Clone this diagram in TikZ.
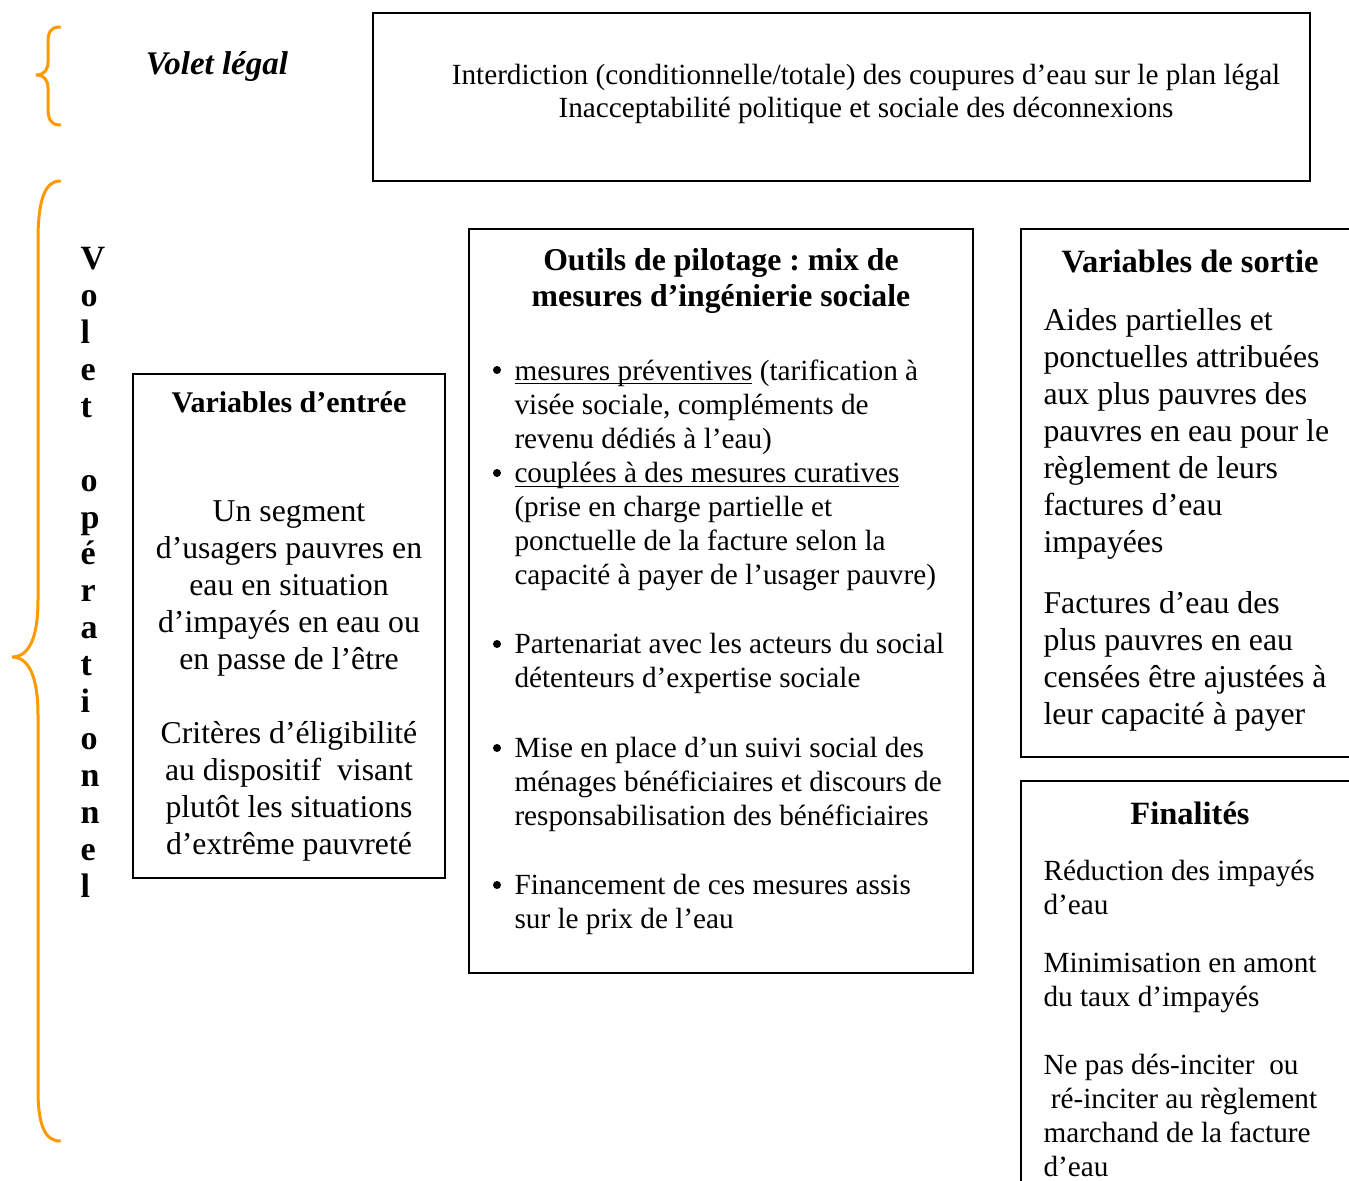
\documentclass[tikz,border=0pt]{standalone}
\usepackage{fontspec}
\setmainfont{Liberation Serif}
\usepackage{xcolor}
\definecolor{accolade}{RGB}{255,153,0}
\newcommand{\souligne}[1]{\underline{\smash{#1}}\vphantom{#1}}

\begin{document}
\frenchspacing
\begin{tikzpicture}[x=0.4pt,y=-0.4pt]
  \tikzset{
    boite/.style={line width=0.8pt},
    texte/.style={inner sep=0, align=left, font=\fontsize{11.7}{13.6}\selectfont},
    grand/.style={inner sep=0, font=\fontsize{12.7}{14.8}\selectfont},
    titre/.style={inner sep=0, align=center, font=\fontsize{12.7}{14.4}\selectfont\bfseries},
    puce/.style={circle, fill, inner sep=0, minimum size=3.2pt},
    brace/.style={draw=accolade, line width=1.2pt, line cap=round}
  }
  \useasboundingbox (0,0) rectangle (1349,1181);

  % accolades
  \draw[brace] (60,27) .. controls (50,27) and (48,33) .. (48,42) -- (48,62)
    .. controls (48,70) and (44,75) .. (36,75) .. controls (44,75) and (48,80) .. (48,88)
    -- (48,108) .. controls (48,118) and (50,125) .. (60,125);
  \draw[brace] (60,181) .. controls (45,181) and (38,200) .. (38,240) -- (38,600)
    .. controls (38,640) and (28,657) .. (12,657) .. controls (28,657) and (38,675) .. (38,715)
    -- (38,1090) .. controls (38,1125) and (45,1141) .. (60,1141);

  \node[inner sep=0, font=\fontsize{13.2}{16}\selectfont\bfseries\itshape] (legal) at (217,67) {Volet légal};
  \node[anchor=north west, inner sep=0, align=left, font=\fontsize{13.6}{14.76}\selectfont\bfseries] (operationnel) at (80,247)
    {V\\o\\l\\e\\t\\\mbox{}\\o\\p\\é\\r\\a\\t\\i\\o\\n\\n\\e\\l};

  % volet legal
  \draw[boite] (373,13) rectangle (1310,181);
  \node[texte, align=center, anchor=north, font=\fontsize{11.7}{13.2}\selectfont] (interdiction) at (866,64)
    {Interdiction (conditionnelle/totale) des coupures d’eau sur le plan légal\\
     Inacceptabilité politique et sociale des déconnexions};

  % variables d'entree
  \draw[boite] (133,374) rectangle (445,878);
  \node[titre, font=\fontsize{12}{14.4}\selectfont\bfseries] (entree) at (289,402) {Variables d’entrée};
  \node[grand, align=center, anchor=north] (segment) at (289,500)
    {Un segment\\d’usagers pauvres en\\eau en situation\\d’impayés en eau ou\\en passe de l’être\\[\baselineskip]
     Critères d’éligibilité\\au dispositif~ visant\\plutôt les situations\\d’extrême pauvreté};

  % outils de pilotage
  \draw[boite] (469,229) rectangle (973,973);
  \node[titre] (outils) at (721,281) {Outils de pilotage : mix de\\mesures d’ingénierie sociale};
  \foreach \y in {370,473,644,748,885}
    \node[puce] (puce\y) at (497,\y) {};
  \node[texte, anchor=north west] (preventives) at (514,359)
    {\souligne{mesures préventives} (tarification à\\visée sociale, compléments de\\revenu dédiés à l’eau)};
  \node[texte, anchor=north west] (curatives) at (514,462)
    {\souligne{couplées à des mesures curatives}\\(prise en charge partielle et\\ponctuelle de la facture selon la\\capacité à payer de l’usager pauvre)};
  \node[texte, anchor=north west] (partenariat) at (514,633)
    {Partenariat avec les acteurs du social\\détenteurs d’expertise sociale};
  \node[texte, anchor=north west] (suivi) at (514,737)
    {Mise en place d’un suivi social des\\ménages bénéficiaires et discours de\\responsabilisation des bénéficiaires};
  \node[texte, anchor=north west] (financement) at (514,874)
    {Financement de ces mesures assis\\sur le prix de l’eau};

  % variables de sortie
  \draw[boite] (1360,229) -- (1021,229) -- (1021,757) -- (1360,757);
  \node[titre, font=\fontsize{13}{14.4}\selectfont\bfseries] (sortie) at (1190,261) {Variables de sortie};
  \node[grand, align=left, anchor=north west] (aides) at (1043,308)
    {Aides partielles et\\ponctuelles attribuées\\aux plus pauvres des\\pauvres en eau pour le\\règlement de leurs\\factures d’eau\\impayées};
  \node[grand, align=left, anchor=north west] (factures) at (1043,591)
    {Factures d’eau des\\plus pauvres en eau\\censées être ajustées à\\leur capacité à payer};

  % finalites
  \draw[boite] (1360,781) -- (1021,781) -- (1021,1190);
  \node[titre, font=\fontsize{13}{14.4}\selectfont\bfseries] (finalites) at (1190,813) {Finalités};
  \node[texte, anchor=north west] (reduction) at (1043,860)
    {Réduction des impayés\\d’eau};
  \node[texte, anchor=north west] (minimisation) at (1043,953)
    {Minimisation en amont\\du taux d’impayés};
  \node[texte, anchor=north west] (inciter) at (1043,1054)
    {Ne pas dés-inciter~ ou\\\hspace{0.25em}ré-inciter au règlement\\marchand de la facture\\d’eau};
\end{tikzpicture}
\end{document}
